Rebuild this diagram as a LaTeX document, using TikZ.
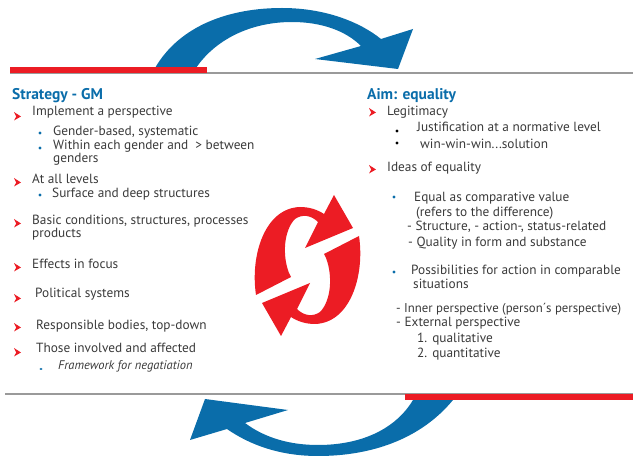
\documentclass[tikz,border=0pt]{standalone}
\usepackage{fontspec}
\setmainfont{PT Sans}

\definecolor{gmblue}{HTML}{0A6DAA}
\definecolor{gmred}{HTML}{EC1C24}
\definecolor{gmtext}{HTML}{3A3A3A}
\definecolor{gmrule}{HTML}{9A9A9A}

\tikzset{
  txt/.style={anchor=base west, inner sep=0pt, text=gmtext, font=\fontsize{13.3}{15}\selectfont},
  small/.style={txt, font=\fontsize{12.5}{14}\selectfont\itshape},
  headline/.style={anchor=base west, inner sep=0pt, text=gmblue, font=\fontsize{15.5}{17}\selectfont\bfseries},
  chev/.pic={\fill[gmred] (-3,-4) -- (4,0.5) -- (-3,4.5) -- (-0.8,0.5) -- cycle;},
  dotb/.pic={\fill[gmblue] (0,0) circle (1.6);},
  dotk/.pic={\fill[black] (0,0) circle (1.6);}
}

\begin{document}
\begin{tikzpicture}[x=1pt,y=-1pt]
\useasboundingbox (0,0) rectangle (633,457);

% blue arrows
\fill[gmblue] (155,68) .. controls (180,25) and (230,8) .. (282,8)
  .. controls (325,8) and (360,22) .. (381,39) -- (413,29) -- (398,69) -- (315,59) -- (361,46)
  .. controls (345,30) and (320,22) .. (292,22) .. controls (250,22) and (215,40) .. (196,68) -- cycle;
\fill[gmblue] (453,400) .. controls (420,440) and (370,456) .. (318,456)
  .. controls (280,456) and (250,445) .. (227,429) -- (190,440) -- (205,399) -- (288,410) -- (245,423)
  .. controls (265,438) and (290,445) .. (318,445) .. controls (360,445) and (395,430) .. (413,400) -- cycle;

% rules
\draw[gmrule, line width=1.2] (10,73) -- (633,73);
\fill[gmred] (10,67.5) rectangle (207,73);
\draw[gmrule, line width=1.2] (5,394) -- (633,394);
\fill[gmred] (405,394) rectangle (633,400);

% red symbol
\foreach \r in {0,180} {
  \fill[gmred, rotate around={\r:(307.5,265.5)}] (256,295) .. controls (250,255) and (265,208) .. (300,207)
    .. controls (310,207) and (318,210) .. (324,214) -- (334,195) -- (353,228) -- (305,248) -- (318,222)
    .. controls (311,215) and (302,214) .. (295,219) .. controls (284,230) and (282,255) .. (289,273)
    -- (291,277) -- cycle;
}

% left column
\node[headline] (strat) at (12,100) {Strategy - GM};
\node[txt] (impl) at (32,116) {Implement a perspective};
\node[txt] (gend) at (53,136) {Gender-based, systematic};
\node[txt] (within) at (53,150) {Within each gender and \ > between};
\node[txt] (genders) at (53,163) {genders};
\node[txt] (levels) at (32,184) {At all levels};
\node[txt] (surf) at (52,198) {Surface and deep structures};
\node[txt] (basic) at (32,225) {Basic conditions, structures, processes};
\node[txt] (prod) at (32,238) {products};
\node[txt] (effects) at (32,269) {Effects in focus};
\node[txt] (polit) at (35,298) {Political systems};
\node[txt] (resp) at (36,330) {Responsible bodies, top-down};
\node[txt] (those) at (36,353) {Those involved and affected};
\node[small] (frame) at (58,370) {Framework for negatiation};

\foreach \y in {116,182,223,267,298,327,352} \pic at (17,\y) {chev};
\foreach \y in {133,148,195} \pic at (40,\y) {dotb};
\fill[gmblue] (41,369) ellipse (1.6 and 1);

% right column
\node[headline] (aim) at (367,99.5) {Aim: equality};
\node[txt] (legit) at (387,116) {Legitimacy};
\node[txt] (just) at (417,132) {Justification at a normative level};
\node[txt] (win) at (420,149) {win-win-win...solution};
\node[txt] (ideas) at (387,172) {Ideas of equality};
\node[txt] (equal) at (414,202) {Equal as comparative value};
\node[txt] (refers) at (416,217) {(refers to the difference)};
\node[txt] (struct) at (407,231) {- Structure, - action-, status-related};
\node[txt] (qual) at (408,247) {- Quality in form and substance};
\node[txt] (poss) at (411,275) {Possibilities for action in comparable};
\node[txt] (sit) at (413,289) {situations};
\node[txt, font=\fontsize{12.8}{15}\selectfont] (inner) at (396,313) {- Inner perspective (person´s perspective)};
\node[txt] (ext) at (396,327) {- External perspective};
\node[txt] (qone) at (417,343) {1.\hspace{5pt}qualitative};
\node[txt] (qtwo) at (417,358) {2.\hspace{5pt}quantitative};

\foreach \y in {112,169} \pic at (372,\y) {chev};
\foreach \y in {131,143} \pic at (397,\y) {dotk};
\foreach \y in {197,272} \pic at (394,\y) {dotb};
\end{tikzpicture}
\end{document}
